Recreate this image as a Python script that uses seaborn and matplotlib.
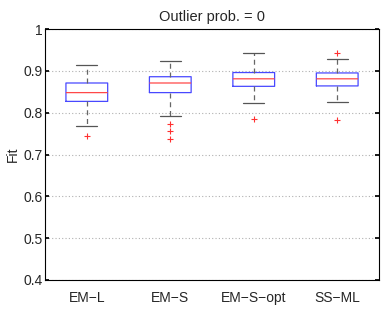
import matplotlib
matplotlib.use("Agg")
import matplotlib.pyplot as plt
import seaborn as sns
import pandas as pd

sns.set_theme(style="white")
plt.rcParams["font.family"] = ["Liberation Sans", "DejaVu Sans"]

# Box summaries
methods = ["EM\u2212L", "EM\u2212S", "EM\u2212S\u2212opt", "SS\u2212ML"]
whisker_lo = [0.767, 0.793, 0.824, 0.825]
q1 = [0.827, 0.848, 0.863, 0.864]
median = [0.848, 0.871, 0.881, 0.881]
q3 = [0.871, 0.886, 0.896, 0.895]
whisker_hi = [0.915, 0.924, 0.943, 0.928]
outliers_lo = [[0.745], [0.773, 0.756, 0.738], [0.786], [0.783]]
outliers_hi = [[], [], [], [0.943]]

# Build samples whose quartiles / whiskers reproduce the summaries above
rows = []
k = 10
for i, m in enumerate(methods):
    below = outliers_lo[i] + [whisker_lo[i]]
    above = [whisker_hi[i]] + outliers_hi[i]
    # balance the two tails by repeating the whisker end
    while len(below) < len(above):
        below.append(whisker_lo[i])
    while len(above) < len(below):
        above.append(whisker_hi[i])
    vals = below + [q1[i]] * k + [median[i]] + [q3[i]] * k + above
    rows += [(m, v) for v in vals]
df = pd.DataFrame(rows, columns=["Method", "Fit"])

fig = plt.figure(figsize=(3.82, 3.09), dpi=100)
ax = fig.add_axes([0.118, 0.094, 0.874, 0.812])

sns.boxplot(
    data=df, x="Method", y="Fit", ax=ax,
    width=0.5, whis=1.5, linewidth=0.9, fill=False,
    flierprops=dict(marker="+", markersize=5),
)

# MATLAB-like colouring of the box parts
for c in ax.containers:
    for b in c.boxes:
        b.set_color("#4848ff")
        b.set_linewidth(0.9)
        b.set_snap(False)
    for l in c.medians:
        l.set_color("#ff4848")
        l.set_linewidth(0.9)
        l.set_snap(False)
    for l in c.whiskers:
        l.set_color("#666666")
        l.set_linestyle((0, (4, 3)))
        l.set_linewidth(0.9)
    for l in c.caps:
        l.set_color("#555555")
        l.set_linewidth(0.9)
    for l in c.fliers:
        l.set_marker("+")
        l.set_markeredgecolor("#ff3030")
        l.set_markerfacecolor("none")
        l.set_markeredgewidth(0.8)
        l.set_markersize(5)

ax.set_xlim(-0.5, 3.5)
ax.set_ylim(0.4, 1.0)
ax.set_yticks([0.4, 0.5, 0.6, 0.7, 0.8, 0.9, 1.0])
ax.set_yticklabels(["0.4", "0.5", "0.6", "0.7", "0.8", "0.9", "1"])
ax.yaxis.grid(True, color="#b0b0b0", linestyle=(0, (1, 2)), linewidth=0.8)
ax.set_axisbelow(True)
ax.tick_params(axis="y", direction="in", length=3, left=True, right=True,
               labelsize=10, pad=2, color="black")
ax.tick_params(axis="x", length=0, labelsize=10, pad=8)
for s in ax.spines.values():
    s.set_color("black")
    s.set_linewidth(0.8)
ax.set_xlabel("")
ax.set_ylabel("Fit", fontsize=10, labelpad=2)
ax.set_title("Outlier prob. = 0", fontsize=10.5, pad=6)

fig.savefig("out.png", dpi=100)
